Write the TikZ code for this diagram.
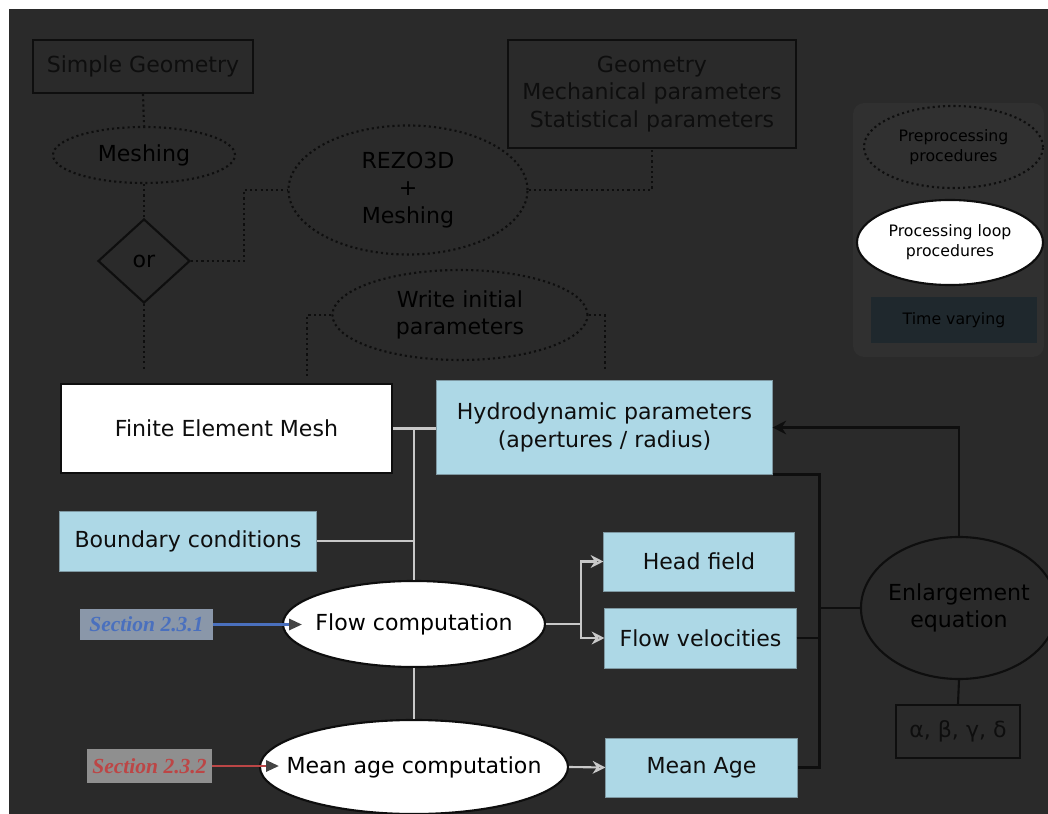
\documentclass[tikz,border=0pt]{standalone}
\usepackage{fontspec}
\setmainfont{DejaVu Sans}
\newfontfamily\secfont{Liberation Serif}
\usetikzlibrary{shapes.geometric, arrows.meta, positioning}
\definecolor{bgdark}{HTML}{2A2A2A}
\definecolor{panelgray}{HTML}{303030}
\definecolor{inkdark}{HTML}{0E0E0E}
\definecolor{wirelight}{HTML}{C8C8C8}
\definecolor{hydroblue}{HTML}{ADD8E6}
\definecolor{hydroedge}{HTML}{7E98A2}
\definecolor{timefill}{HTML}{1F282D}
\definecolor{secbluefill}{HTML}{8A97A9}
\definecolor{secblue}{HTML}{4A70BE}
\definecolor{secgrayfill}{HTML}{8F8F8F}
\definecolor{secred}{HTML}{BC4646}
\definecolor{tipgray}{HTML}{444444}

\begin{document}
\begin{tikzpicture}[x=0.025cm, y=-0.025cm,
  font=\fontsize{15.7}{19.6}\selectfont,
  prebox/.style={rectangle, draw=inkdark, line width=1.5pt, inner sep=0pt, text=inkdark, align=center},
  dotell/.style={ellipse, draw=inkdark, line width=1.5pt, dash pattern=on 1.5pt off 2.2pt, inner sep=0pt},
  loopell/.style={ellipse, draw=inkdark, fill=white, line width=1.5pt, inner sep=0pt},
  hydrobox/.style={rectangle, draw=hydroedge, line width=0.7pt, fill=hydroblue, inner sep=0pt, text=inkdark, align=center},
  secbox/.style={rectangle, inner sep=0pt, font=\fontsize{15.3}{18}\secfont\bfseries\itshape},
  dotline/.style={draw=inkdark, line width=1.5pt, dash pattern=on 1.5pt off 2.2pt},
  wire/.style={draw=wirelight, line width=1.5pt},
  wirearr/.style={wire, -{Stealth[open, length=0.32cm, width=0.32cm]}},
  blackwire/.style={draw=inkdark, line width=1.5pt},
  blackarr/.style={blackwire, -{Stealth[length=0.34cm, width=0.34cm]}},
  secarr/.style={line width=1.6pt, shorten >=-0.5cm, -{Triangle[color=tipgray, length=0.32cm, width=0.28cm]}},
  legendtext/.style={font=\fontsize{11.2}{14.2}\selectfont}]
\useasboundingbox (0,0) rectangle (1048,814);
\fill[white] (0,0) rectangle (1048,814);
\fill[bgdark] (9,9) rectangle (1048,814);
\clip (0,0) rectangle (1048,814);
% preprocessing
\node[prebox, minimum width=5.5cm, minimum height=1.325cm] (simplegeo) at (143,66.5) {Simple Geometry};
\node[dotell, minimum width=4.55cm, minimum height=1.4cm, label=center:Meshing] (meshing) at (144,155) {};
\node[diamond, draw=inkdark, line width=1.5pt, inner sep=0pt, minimum width=2.3cm, minimum height=2.1cm] (orsel) at (144,261) {or};
\node[dotell, minimum width=5.975cm, minimum height=3.225cm, label={[align=center]center:REZO3D\\+\\Meshing}] (rezo) at (408,190) {};
\node[prebox, minimum width=7.2cm, minimum height=2.7cm] (inputs) at (652,94) {Geometry\\Mechanical parameters\\Statistical parameters};
\node[dotell, minimum width=6.375cm, minimum height=2.25cm, label={[align=center]center:Write initial\\parameters}] (writeinit) at (460,315) {};
% processing loop
\node[prebox, fill=white, minimum width=8.275cm, minimum height=2.225cm] (femesh) at (226.5,428.5) {Finite Element Mesh};
\node[hydrobox, minimum width=8.375cm, minimum height=2.325cm] (hydro) at (604.5,427.5) {Hydrodynamic parameters\\(apertures / radius)};
\node[hydrobox, minimum width=6.4cm, minimum height=1.5cm] (boundary) at (188,541) {Boundary conditions};
\node[loopell, minimum width=6.55cm, minimum height=2.15cm, label=center:Flow computation] (flowcomp) at (414,624) {};
\node[loopell, minimum width=7.7cm, minimum height=2.35cm, label=center:Mean age computation] (agecomp) at (414,767) {};
\node[hydrobox, minimum width=4.75cm, minimum height=1.475cm] (headfield) at (699,561.5) {Head field};
\node[hydrobox, minimum width=4.775cm, minimum height=1.5cm] (flowvel) at (700.5,638) {Flow velocities};
\node[hydrobox, minimum width=4.775cm, minimum height=1.475cm] (meanage) at (701.5,767.5) {Mean Age};
\node[ellipse, draw=inkdark, line width=1.5pt, inner sep=0pt, minimum width=4.9cm, minimum height=3.55cm, label={[align=center]center:Enlargement\\equation}] (enlarge) at (959,608) {};
\node[prebox, minimum width=3.1cm, minimum height=1.325cm] (coeffs) at (958,731.5) {α, β, γ, δ};
\node[secbox, fill=secbluefill, text=secblue, minimum width=3.325cm, minimum height=0.775cm] (sec231) at (146.5,624.5) {Section 2.3.1};
\node[secbox, fill=secgrayfill, text=secred, minimum width=3.125cm, minimum height=0.825cm] (sec232) at (149.5,766) {Section 2.3.2};
% legend
\fill[panelgray, rounded corners=8pt] (853,103) rectangle (1044,357);
\node[dotell, minimum width=4.475cm, minimum height=2.05cm, label={[align=center, legendtext]center:Preprocessing\\procedures}] (keypre) at (953.5,147) {};
\node[loopell, minimum width=4.65cm, minimum height=2.125cm, label={[align=center, legendtext]center:Processing loop\\procedures}] (keyloop) at (950,242.5) {};
\node[rectangle, fill=timefill, inner sep=0pt, minimum width=4.15cm, minimum height=1.15cm, legendtext] (keytime) at (954,320) {Time varying};
% dotted links
\draw[dotline] (simplegeo.south) -- (meshing.north);
\draw[dotline] (meshing.south) -- (orsel.north);
\draw[dotline] (orsel.east) -- ++(53,0) |- (rezo.west);
\draw[dotline] (rezo.east) -| (inputs.south);
\draw[dotline, shorten >=0.3cm] (orsel.south) -- (orsel.south |- femesh.north);
\draw[dotline, shorten >=0.1cm] (writeinit.west) -- ++(-24,0) coordinate (wl) -- (wl |- femesh.north);
\draw[dotline, shorten >=0.22cm] (writeinit.east) -- ++(16,0) coordinate (wr) -- (wr |- hydro.north);
% grey wires
\draw[wire] (femesh.east) -- (hydro.west |- femesh.east);
\draw[wire] (femesh.east -| flowcomp.north) -- (flowcomp.north);
\draw[wire] (boundary.east) -- (boundary.east -| flowcomp.north);
\draw[wire] (flowcomp.south) -- (agecomp.north);
\draw[wirearr] (flowcomp.east) -- ++(35,0) coordinate (fork) |- (headfield.west);
\draw[wirearr] (fork) |- (flowvel.west);
\draw[wirearr] (agecomp.east) -- (meanage.west);
\draw[secarr, draw=secblue] (sec231.east) -- (sec231.east -| flowcomp.west);
\draw[secarr, draw=secred] (sec232.east) -- (sec232.east -| agecomp.west);
% feedback
\draw[blackwire] (hydro.south east) -- ++(47,0) coordinate (bus) |- (meanage.east);
\draw[blackwire] (flowvel.east) -- (flowvel.east -| bus);
\draw[blackwire] (enlarge.west) -- (enlarge.west -| bus);
\draw[blackarr] (enlarge.north) |- (hydro.east);
\draw[blackwire] (enlarge.south) -- (coeffs.north);
\end{tikzpicture}
\end{document}
